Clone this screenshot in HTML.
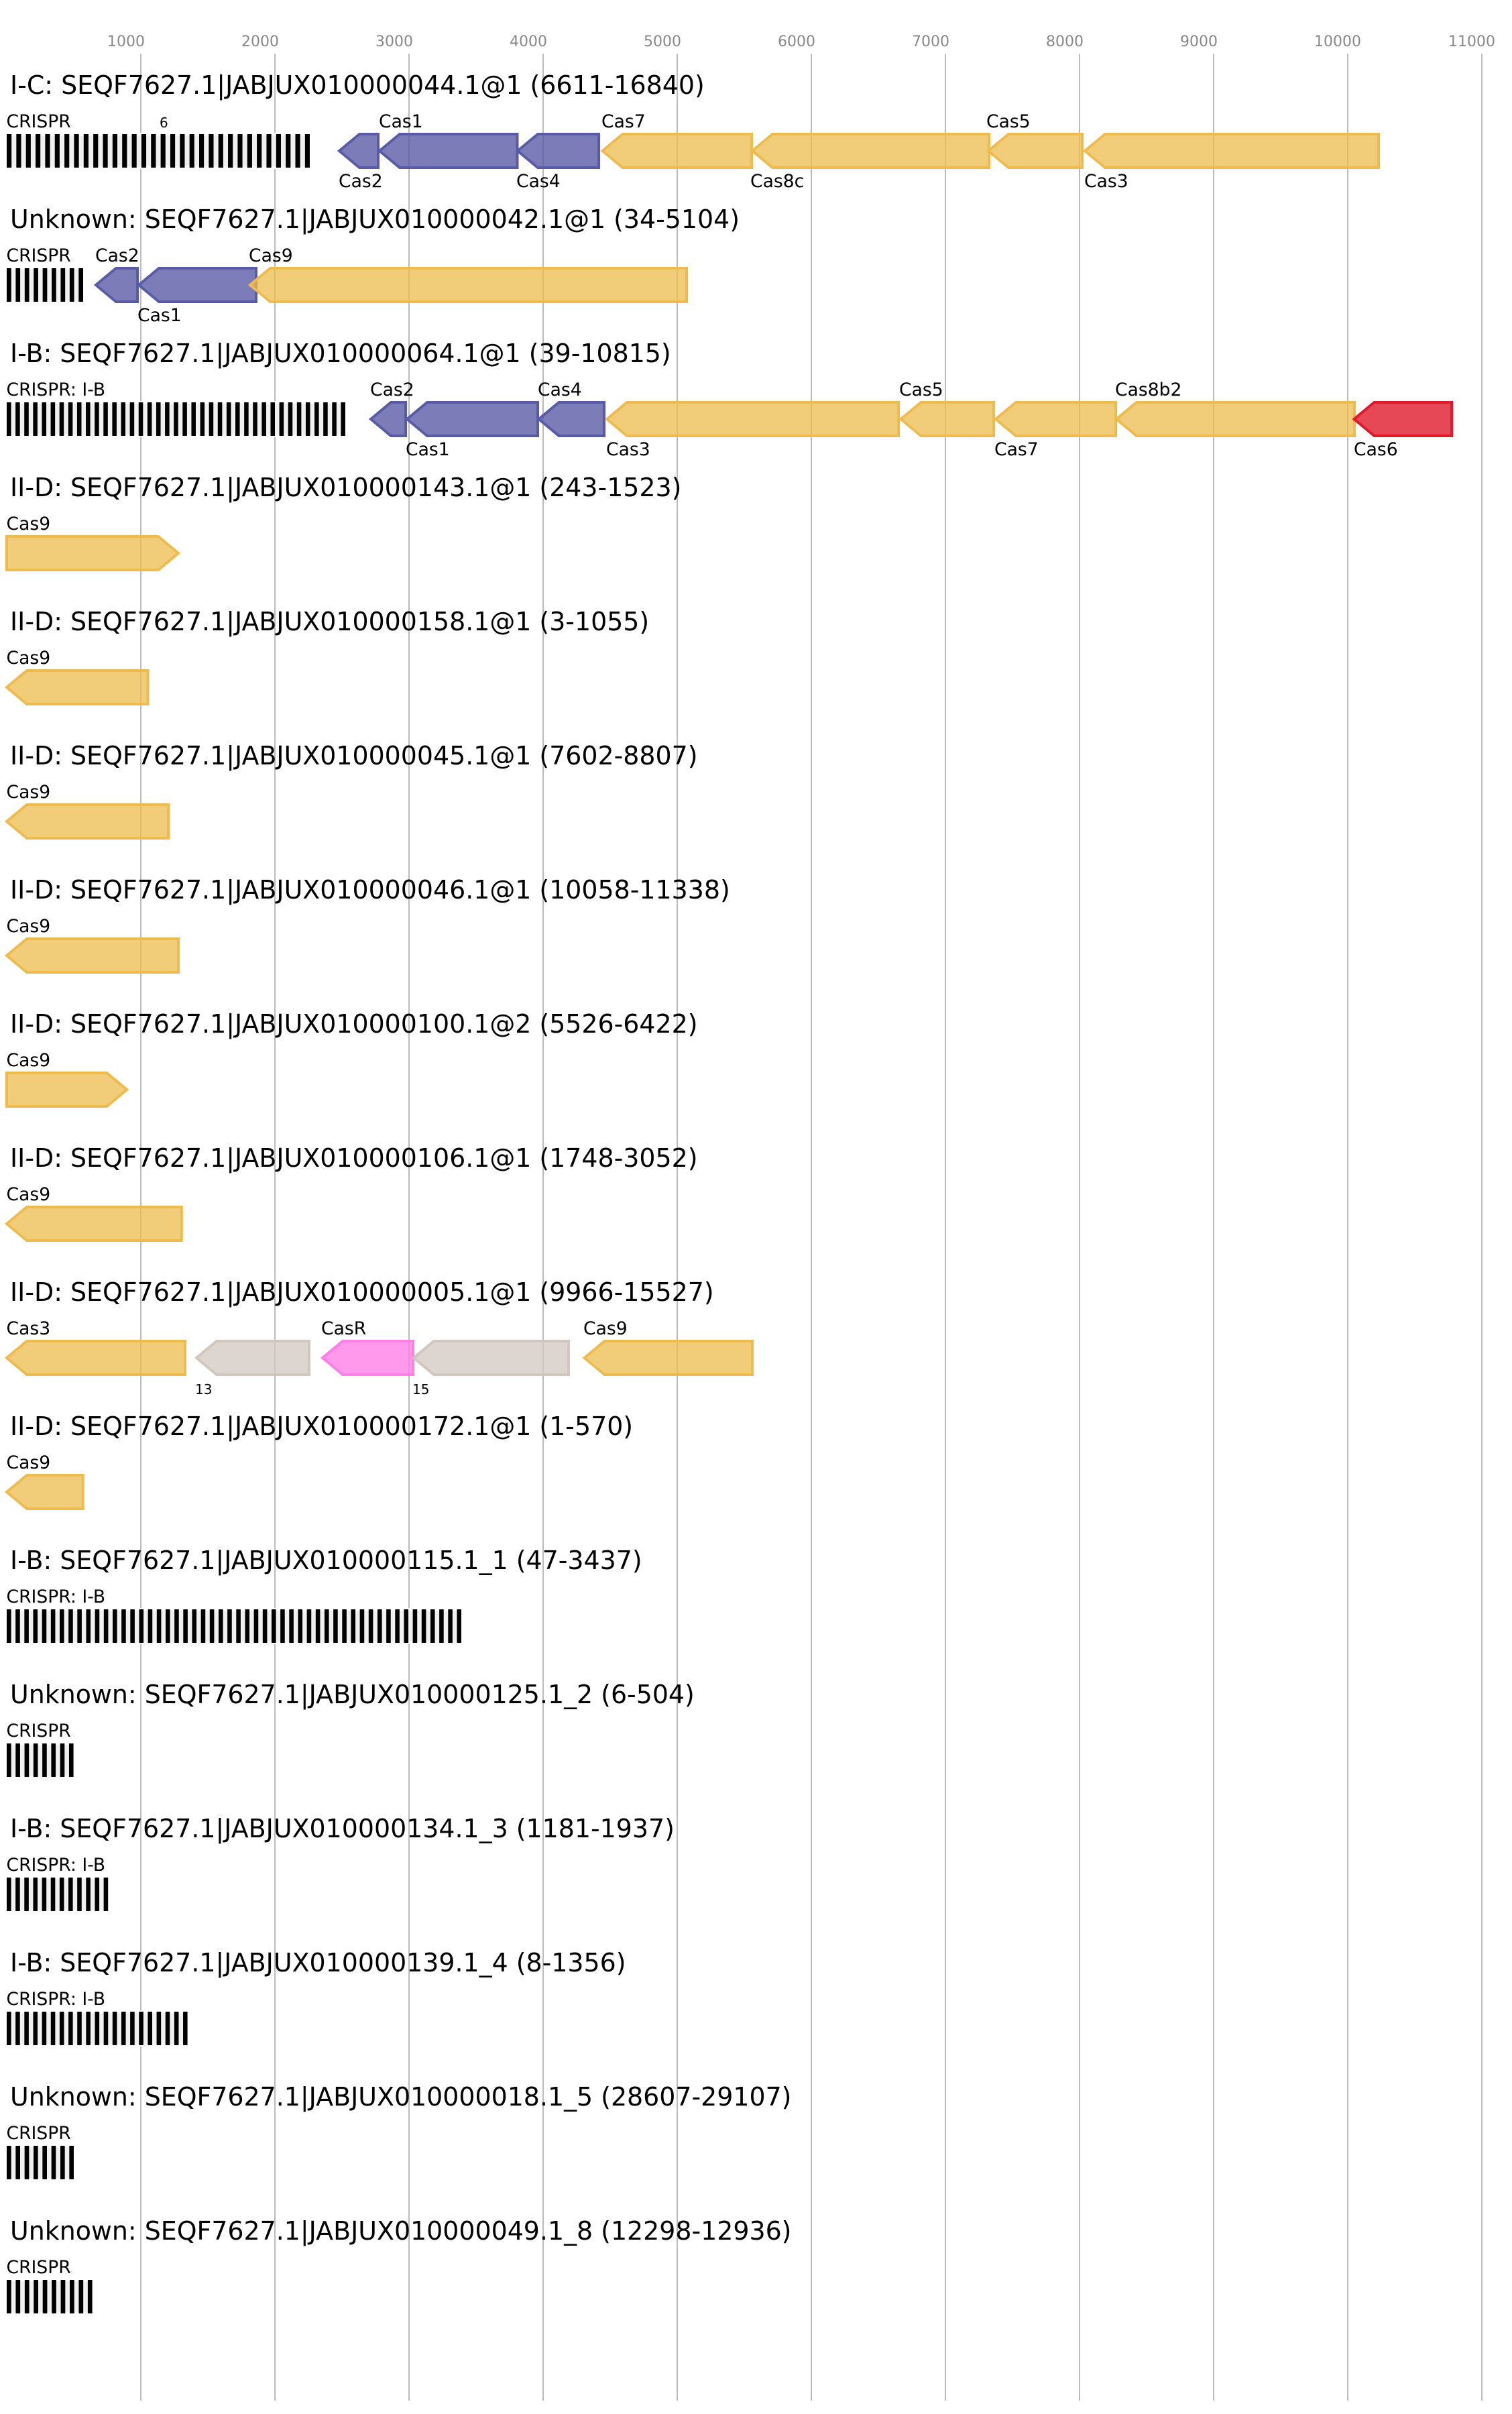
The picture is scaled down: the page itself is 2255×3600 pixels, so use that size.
<!DOCTYPE html>
<html><head><meta charset="utf-8"><style>
html,body{margin:0;padding:0;background:#fff}
svg{display:block}
text{font-family:"DejaVu Sans",sans-serif;fill:#000}
.t{font-size:37.9px}.l{font-size:26.6px}.s{font-size:20px}
.k{font-size:22px;fill:#888}
.n{stroke:#bbb;stroke-width:2}
.c{fill:#f0f0f0;stroke:#fff;stroke-width:4}
.d{stroke:#000;stroke-width:50}
polygon{stroke-width:4;fill-opacity:.8}
.b{fill:#5a5ba6;stroke:#5a5ba6}.y{fill:#edbc4c;stroke:#edbc4c;fill-opacity:.75}.r{fill:#e01a2c;stroke:#e01a2c}.p{fill:#ff7fe6;stroke:#ff7fe6}.g{fill:#d2c7bf;stroke:#d2c7bf;fill-opacity:.75}
</style></head><body>
<svg xmlns="http://www.w3.org/2000/svg" width="2255" height="3600" viewBox="0 0 2255 3600">
<rect width="2255" height="3600" fill="#fff"/>
<g>
<line class="n" x1="210" y1="80" x2="210" y2="3580"/><line class="n" x1="410" y1="80" x2="410" y2="3580"/><line class="n" x1="610" y1="80" x2="610" y2="3580"/><line class="n" x1="810" y1="80" x2="810" y2="3580"/><line class="n" x1="1010" y1="80" x2="1010" y2="3580"/><line class="n" x1="1210" y1="80" x2="1210" y2="3580"/><line class="n" x1="1410" y1="80" x2="1410" y2="3580"/><line class="n" x1="1610" y1="80" x2="1610" y2="3580"/><line class="n" x1="1810" y1="80" x2="1810" y2="3580"/><line class="n" x1="2010" y1="80" x2="2010" y2="3580"/><line class="n" x1="2210" y1="80" x2="2210" y2="3580"/>
<text class="k" x="160" y="69">1000</text><text class="k" x="360" y="69">2000</text><text class="k" x="560" y="69">3000</text><text class="k" x="760" y="69">4000</text><text class="k" x="960" y="69">5000</text><text class="k" x="1160" y="69">6000</text><text class="k" x="1360" y="69">7000</text><text class="k" x="1560" y="69">8000</text><text class="k" x="1760" y="69">9000</text><text class="k" x="1960" y="69">10000</text><text class="k" x="2160" y="69">11000</text>
</g>

<g>
<text class="t" x="15" y="140">I-C: SEQF7627.1|JABJUX010000044.1@1 (6611-16840)</text>
<rect class="c" x="10" y="200" width="452" height="50"/><line class="d" x1="10" y1="225" x2="462" y2="225" stroke-dasharray="7.175 7.175"/>
<polygon class="b" points="506,225 536,200 564,200 564,250 536,250"/>
<polygon class="b" points="566,225 596,200 771.5,200 771.5,250 596,250"/>
<polygon class="b" points="772,225 802,200 893,200 893,250 802,250"/>
<polygon class="y" points="898.5,225 928.5,200 1121,200 1121,250 928.5,250"/>
<polygon class="y" points="1122,225 1152,200 1475,200 1475,250 1152,250"/>
<polygon class="y" points="1474,225 1504,200 1614,200 1614,250 1504,250"/>
<polygon class="y" points="1618,225 1648,200 2056,200 2056,250 1648,250"/>
<text class="l" x="9.5" y="190">CRISPR</text><text class="s" x="238" y="190">6</text>
<text class="l" x="565" y="190">Cas1</text><text class="l" x="897" y="190">Cas7</text><text class="l" x="1471" y="190">Cas5</text>
<text class="l" x="505" y="279">Cas2</text><text class="l" x="770" y="279">Cas4</text><text class="l" x="1119" y="279">Cas8c</text><text class="l" x="1617" y="279">Cas3</text>
</g>

<g transform="translate(0,200)">
<text class="t" x="15" y="140">Unknown: SEQF7627.1|JABJUX010000042.1@1 (34-5104)</text>
<rect class="c" x="10" y="200" width="114" height="50"/><line class="d" x1="10" y1="225" x2="124" y2="225" stroke-dasharray="6.706 6.706"/>
<polygon class="b" points="143,225 173,200 205,200 205,250 173,250"/>
<polygon class="b" points="207,225 237,200 382,200 382,250 237,250"/>
<polygon class="y" points="373,225 403,200 1024,200 1024,250 403,250"/>
<text class="l" x="9.5" y="190">CRISPR</text><text class="l" x="142" y="190">Cas2</text><text class="l" x="371" y="190">Cas9</text>
<text class="l" x="205" y="279">Cas1</text>
</g>

<g transform="translate(0,400)">
<text class="t" x="15" y="140">I-B: SEQF7627.1|JABJUX010000064.1@1 (39-10815)</text>
<rect class="c" x="10" y="200" width="505" height="50"/><line class="d" x1="10" y1="225" x2="515" y2="225" stroke-dasharray="6.558 6.558"/>
<polygon class="b" points="553,225 583,200 605,200 605,250 583,250"/>
<polygon class="b" points="607,225 637,200 802,200 802,250 637,250"/>
<polygon class="b" points="803.5,225 833.5,200 901,200 901,250 833.5,250"/>
<polygon class="y" points="905,225 935,200 1340,200 1340,250 935,250"/>
<polygon class="y" points="1343.5,225 1373.5,200 1482,200 1482,250 1373.5,250"/>
<polygon class="y" points="1485,225 1515,200 1664,200 1664,250 1515,250"/>
<polygon class="y" points="1665,225 1695,200 2020,200 2020,250 1695,250"/>
<polygon class="r" points="2019.5,225 2049.5,200 2165,200 2165,250 2049.5,250"/>
<text class="l" x="9.5" y="190">CRISPR: I-B</text><text class="l" x="552" y="190">Cas2</text><text class="l" x="802" y="190">Cas4</text><text class="l" x="1341" y="190">Cas5</text><text class="l" x="1663" y="190">Cas8b2</text>
<text class="l" x="605" y="279">Cas1</text><text class="l" x="904" y="279">Cas3</text><text class="l" x="1483" y="279">Cas7</text><text class="l" x="2019" y="279">Cas6</text>
</g>

<g transform="translate(0,600)">
<text class="t" x="15" y="140">II-D: SEQF7627.1|JABJUX010000143.1@1 (243-1523)</text>
<polygon class="y" points="10,200 236,200 266,225 236,250 10,250"/>
<text class="l" x="9.5" y="190">Cas9</text>
</g>

<g transform="translate(0,800)">
<text class="t" x="15" y="140">II-D: SEQF7627.1|JABJUX010000158.1@1 (3-1055)</text>
<polygon class="y" points="10,225 40,200 220.4,200 220.4,250 40,250"/>
<text class="l" x="9.5" y="190">Cas9</text>
</g>

<g transform="translate(0,1000)">
<text class="t" x="15" y="140">II-D: SEQF7627.1|JABJUX010000045.1@1 (7602-8807)</text>
<polygon class="y" points="10,225 40,200 251,200 251,250 40,250"/>
<text class="l" x="9.5" y="190">Cas9</text>
</g>

<g transform="translate(0,1200)">
<text class="t" x="15" y="140">II-D: SEQF7627.1|JABJUX010000046.1@1 (10058-11338)</text>
<polygon class="y" points="10,225 40,200 266,200 266,250 40,250"/>
<text class="l" x="9.5" y="190">Cas9</text>
</g>

<g transform="translate(0,1400)">
<text class="t" x="15" y="140">II-D: SEQF7627.1|JABJUX010000100.1@2 (5526-6422)</text>
<polygon class="y" points="10,200 159.2,200 189.2,225 159.2,250 10,250"/>
<text class="l" x="9.5" y="190">Cas9</text>
</g>

<g transform="translate(0,1600)">
<text class="t" x="15" y="140">II-D: SEQF7627.1|JABJUX010000106.1@1 (1748-3052)</text>
<polygon class="y" points="10,225 40,200 270.8,200 270.8,250 40,250"/>
<text class="l" x="9.5" y="190">Cas9</text>
</g>

<g transform="translate(0,1800)">
<text class="t" x="15" y="140">II-D: SEQF7627.1|JABJUX010000005.1@1 (9966-15527)</text>
<polygon class="y" points="10,225 40,200 276,200 276,250 40,250"/>
<polygon class="g" points="293,225 323,200 461,200 461,250 323,250"/>
<polygon class="p" points="481,225 511,200 616,200 616,250 511,250"/>
<polygon class="g" points="617,225 647,200 848,200 848,250 647,250"/>
<polygon class="y" points="871.6,225 901.6,200 1122,200 1122,250 901.6,250"/>
<text class="l" x="9.5" y="190">Cas3</text><text class="l" x="479" y="190">CasR</text><text class="l" x="870" y="190">Cas9</text>
<text class="s" x="291" y="279">13</text><text class="s" x="615" y="279">15</text>
</g>

<g transform="translate(0,2000)">
<text class="t" x="15" y="140">II-D: SEQF7627.1|JABJUX010000172.1@1 (1-570)</text>
<polygon class="y" points="10,225 40,200 123.8,200 123.8,250 40,250"/>
<text class="l" x="9.5" y="190">Cas9</text>
</g>

<g transform="translate(0,2200)">
<text class="t" x="15" y="140">I-B: SEQF7627.1|JABJUX010000115.1_1 (47-3437)</text>
<rect class="c" x="10" y="200" width="678" height="50"/><line class="d" x1="10" y1="225" x2="688" y2="225" stroke-dasharray="6.583 6.583"/>
<text class="l" x="9.5" y="190">CRISPR: I-B</text>
</g>

<g transform="translate(0,2400)">
<text class="t" x="15" y="140">Unknown: SEQF7627.1|JABJUX010000125.1_2 (6-504)</text>
<rect class="c" x="10" y="200" width="99.6" height="50"/><line class="d" x1="10" y1="225" x2="109.6" y2="225" stroke-dasharray="6.64 6.64"/>
<text class="l" x="9.5" y="190">CRISPR</text>
</g>

<g transform="translate(0,2600)">
<text class="t" x="15" y="140">I-B: SEQF7627.1|JABJUX010000134.1_3 (1181-1937)</text>
<rect class="c" x="10" y="200" width="151.2" height="50"/><line class="d" x1="10" y1="225" x2="161.2" y2="225" stroke-dasharray="6.574 6.574"/>
<text class="l" x="9.5" y="190">CRISPR: I-B</text>
</g>

<g transform="translate(0,2800)">
<text class="t" x="15" y="140">I-B: SEQF7627.1|JABJUX010000139.1_4 (8-1356)</text>
<rect class="c" x="10" y="200" width="269.6" height="50"/><line class="d" x1="10" y1="225" x2="279.6" y2="225" stroke-dasharray="6.576 6.576"/>
<text class="l" x="9.5" y="190">CRISPR: I-B</text>
</g>

<g transform="translate(0,3000)">
<text class="t" x="15" y="140">Unknown: SEQF7627.1|JABJUX010000018.1_5 (28607-29107)</text>
<rect class="c" x="10" y="200" width="100" height="50"/><line class="d" x1="10" y1="225" x2="110" y2="225" stroke-dasharray="6.667 6.667"/>
<text class="l" x="9.5" y="190">CRISPR</text>
</g>

<g transform="translate(0,3200)">
<text class="t" x="15" y="140">Unknown: SEQF7627.1|JABJUX010000049.1_8 (12298-12936)</text>
<rect class="c" x="10" y="200" width="127.6" height="50"/><line class="d" x1="10" y1="225" x2="137.6" y2="225" stroke-dasharray="6.716 6.716"/>
<text class="l" x="9.5" y="190">CRISPR</text>
</g>
</svg>
</body></html>
